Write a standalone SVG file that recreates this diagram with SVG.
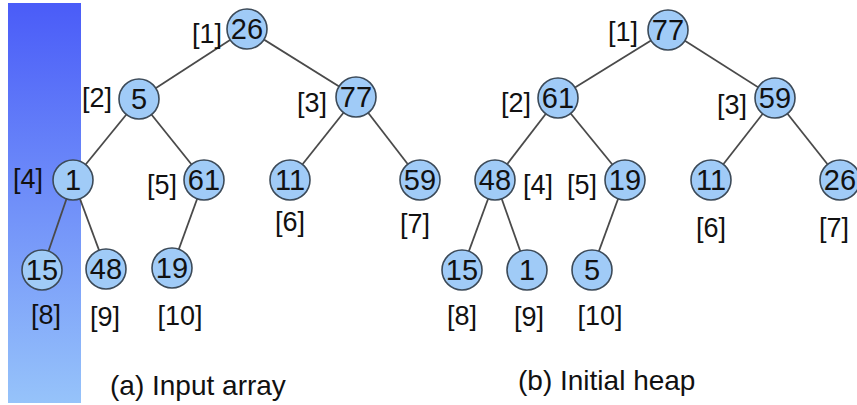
<svg xmlns="http://www.w3.org/2000/svg" width="857" height="405" viewBox="0 0 857 405">
<defs>
<linearGradient id="bar" x1="0" y1="0" x2="0" y2="1">
<stop offset="0" stop-color="#4a5cf8"/>
<stop offset="1" stop-color="#96c3fa"/>
</linearGradient>
</defs>
<style>
.e{stroke:#4a4a4a;stroke-width:1.8;fill:none}
.n circle{fill:#a0cbf7;stroke:#3c4a58;stroke-width:1.6}
.n text{font-family:"Liberation Sans",Arial,sans-serif;font-size:29px;fill:#111;text-anchor:middle}
.l{font-family:"Liberation Sans",Arial,sans-serif;font-size:27px;fill:#111;text-anchor:middle}
.c{font-family:"Liberation Sans",Arial,sans-serif;font-size:28px;fill:#111}
</style>
<rect x="8" y="3" width="73" height="400" fill="url(#bar)"/>
<g id="connectors">
<line class="e" x1="247" y1="29" x2="139" y2="99"/>
<line class="e" x1="247" y1="29" x2="356" y2="97"/>
<line class="e" x1="139" y1="99" x2="73" y2="180"/>
<line class="e" x1="139" y1="99" x2="204" y2="180"/>
<line class="e" x1="356" y1="97" x2="290" y2="180"/>
<line class="e" x1="356" y1="97" x2="420" y2="180"/>
<line class="e" x1="73" y1="180" x2="42" y2="270"/>
<line class="e" x1="73" y1="180" x2="106" y2="269"/>
<line class="e" x1="204" y1="180" x2="172" y2="268"/>
<line class="e" x1="668" y1="30" x2="558" y2="98"/>
<line class="e" x1="668" y1="30" x2="775" y2="98"/>
<line class="e" x1="558" y1="98" x2="495" y2="180"/>
<line class="e" x1="558" y1="98" x2="625" y2="180"/>
<line class="e" x1="775" y1="98" x2="711" y2="180"/>
<line class="e" x1="775" y1="98" x2="840" y2="180"/>
<line class="e" x1="495" y1="180" x2="462" y2="270"/>
<line class="e" x1="495" y1="180" x2="527" y2="270"/>
<line class="e" x1="625" y1="180" x2="592" y2="270"/>
</g>
<g id="a1" class="n"><circle cx="247" cy="29" r="20"/><text x="247" y="39">26</text></g>
<g id="a2" class="n"><circle cx="139" cy="99" r="20"/><text x="139" y="109">5</text></g>
<g id="a3" class="n"><circle cx="356" cy="97" r="20"/><text x="356" y="107">77</text></g>
<g id="a4" class="n"><circle cx="73" cy="180" r="20"/><text x="73" y="190">1</text></g>
<g id="a5" class="n"><circle cx="204" cy="180" r="20"/><text x="204" y="190">61</text></g>
<g id="a6" class="n"><circle cx="290" cy="180" r="20"/><text x="290" y="190">11</text></g>
<g id="a7" class="n"><circle cx="420" cy="180" r="20"/><text x="420" y="190">59</text></g>
<g id="a8" class="n"><circle cx="42" cy="270" r="20"/><text x="42" y="280">15</text></g>
<g id="a9" class="n"><circle cx="106" cy="269" r="20"/><text x="106" y="279">48</text></g>
<g id="a10" class="n"><circle cx="172" cy="268" r="20"/><text x="172" y="278">19</text></g>
<g id="b1" class="n"><circle cx="668" cy="30" r="20"/><text x="668" y="40">77</text></g>
<g id="b2" class="n"><circle cx="558" cy="98" r="20"/><text x="558" y="108">61</text></g>
<g id="b3" class="n"><circle cx="775" cy="98" r="20"/><text x="775" y="108">59</text></g>
<g id="b4" class="n"><circle cx="495" cy="180" r="20"/><text x="495" y="190">48</text></g>
<g id="b5" class="n"><circle cx="625" cy="180" r="20"/><text x="625" y="190">19</text></g>
<g id="b6" class="n"><circle cx="711" cy="180" r="20"/><text x="711" y="190">11</text></g>
<g id="b7" class="n"><circle cx="840" cy="180" r="20"/><text x="840" y="190">26</text></g>
<g id="b8" class="n"><circle cx="462" cy="270" r="20"/><text x="462" y="280">15</text></g>
<g id="b9" class="n"><circle cx="527" cy="270" r="20"/><text x="527" y="280">1</text></g>
<g id="b10" class="n"><circle cx="592" cy="270" r="20"/><text x="592" y="280">5</text></g>
<g id="labels">
<text class="l" x="207" y="43">[1]</text>
<text class="l" x="97" y="107">[2]</text>
<text class="l" x="312" y="112">[3]</text>
<text class="l" x="28" y="188">[4]</text>
<text class="l" x="162" y="194">[5]</text>
<text class="l" x="290" y="231">[6]</text>
<text class="l" x="415" y="233">[7]</text>
<text class="l" x="46" y="324">[8]</text>
<text class="l" x="105" y="326">[9]</text>
<text class="l" x="180" y="325">[10]</text>
<text class="c" x="110" y="395">(a) Input array</text>
<text class="l" x="623" y="41">[1]</text>
<text class="l" x="516" y="112">[2]</text>
<text class="l" x="732" y="114">[3]</text>
<text class="l" x="538" y="194">[4]</text>
<text class="l" x="582" y="194">[5]</text>
<text class="l" x="711" y="237">[6]</text>
<text class="l" x="834" y="237">[7]</text>
<text class="l" x="462" y="325">[8]</text>
<text class="l" x="529" y="326">[9]</text>
<text class="l" x="600" y="325">[10]</text>
<text class="c" x="518" y="390">(b) Initial heap</text>
</g>
</svg>
